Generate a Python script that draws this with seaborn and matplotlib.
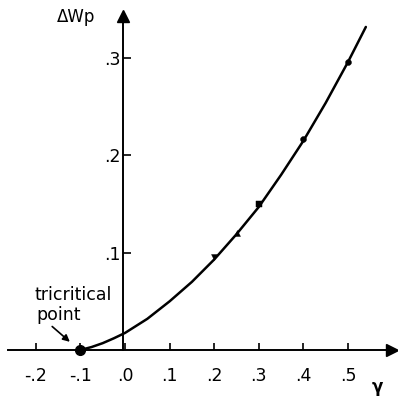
import matplotlib
matplotlib.use("Agg")
import matplotlib.pyplot as plt
import seaborn as sns
import pandas as pd

# Measured points
gamma_pts = [0.20, 0.25, 0.30, 0.40, 0.50]
dwp_pts = [0.096, 0.120, 0.150, 0.217, 0.296]
pt_markers = ["v", "^", "s", "o", "o"]

# Smooth curve through the measurements, starting at the tricritical point
gamma_curve = [-0.10, -0.075, -0.05, -0.025, 0.0, 0.05, 0.10, 0.15, 0.20,
               0.25, 0.30, 0.35, 0.40, 0.45, 0.50, 0.54]
dwp_curve = [0.0, 0.003, 0.007, 0.012, 0.0175, 0.032, 0.050, 0.070, 0.093,
             0.119, 0.147, 0.180, 0.215, 0.254, 0.296, 0.332]

tricritical = (-0.10, 0.0)

x_ticks = [-0.2, -0.1, 0.0, 0.1, 0.2, 0.3, 0.4, 0.5]
x_labels = ["-.2", "-.1", ".0", ".1", ".2", ".3", ".4", ".5"]
y_ticks = [0.1, 0.2, 0.3]
y_labels = [".1", ".2", ".3"]

sns.set_style("white")
plt.rcParams["font.family"] = ["DejaVu Sans"]
plt.rcParams["text.color"] = "black"
plt.rcParams["xtick.color"] = "black"
plt.rcParams["ytick.color"] = "black"
plt.rcParams["axes.edgecolor"] = "black"

fig = plt.figure(figsize=(3.98, 3.99), dpi=100)
ax = fig.add_axes([0, 0, 1, 1])
ax.set_xlim(-0.2803, 0.6121)
ax.set_ylim(-0.0504, 0.3597)

curve = pd.DataFrame({"gamma": gamma_curve, "dwp": dwp_curve})
sns.lineplot(data=curve, x="gamma", y="dwp", ax=ax, color="black",
             linewidth=1.8, sort=False)

for gx, gy, m in zip(gamma_pts, dwp_pts, pt_markers):
    sns.scatterplot(x=[gx], y=[gy], marker=m, s=18, color="black",
                    edgecolor="black", ax=ax, zorder=4)

ax.plot([tricritical[0]], [tricritical[1]], "o", color="black",
        markersize=7, zorder=5)

# Axes through the origin with arrowheads
for side in ("top", "right"):
    ax.spines[side].set_visible(False)
ax.spines["bottom"].set_position(("data", 0))
ax.spines["left"].set_position(("data", -0.004))
ax.spines["bottom"].set_bounds(-0.262, 0.595)
ax.spines["left"].set_bounds(0, 0.34)
ax.spines["bottom"].set_linewidth(1.4)
ax.spines["left"].set_linewidth(1.4)
ax.plot([0.598], [0], marker=">", color="black", markersize=8,
        clip_on=False, zorder=5)
ax.plot([-0.004], [0.343], marker="^", color="black", markersize=8,
        clip_on=False, zorder=5)

ax.set_xticks(x_ticks)
ax.set_xticklabels(x_labels)
ax.set_yticks(y_ticks)
ax.set_yticklabels(y_labels)
ax.tick_params(axis="x", direction="in", length=5, width=1.2, pad=12,
               labelsize=12.5, bottom=True)
ax.tick_params(axis="y", direction="in", length=6, width=1.2, pad=2,
               labelsize=12.5, left=True)
ax.set_xlabel("")
ax.set_ylabel("")

ax.text(-0.11, 0.342, "ΔWp", fontsize=12, ha="center", va="center")
ax.text(0.565, -0.038, "γ", fontsize=12, fontweight="bold",
        ha="center", va="center")

ax.text(-0.203, 0.0565, "tricritical", fontsize=12.5, ha="left", va="center")
ax.text(-0.199, 0.036, "point", fontsize=12.5, ha="left", va="center")
ax.annotate("", xy=(-0.119, 0.0065), xytext=(-0.168, 0.026),
            arrowprops=dict(arrowstyle="-|>", color="black", lw=1.2,
                            mutation_scale=10))

fig.savefig("out.png", dpi=100)
